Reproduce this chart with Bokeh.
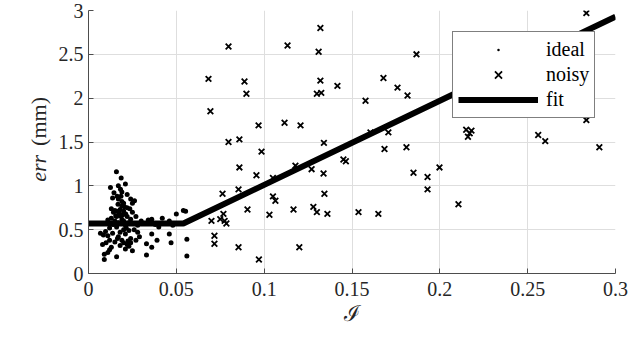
import math
from bokeh.plotting import figure
from bokeh.models import Range1d, FixedTicker, Label, Legend, LegendItem
from bokeh.embed import file_html
from bokeh.resources import INLINE

# ---------------- data ----------------
ideal_x = [0.0159, 0.0186, 0.0125, 0.0170, 0.0182, 0.0190, 0.0220, 0.0137, 0.0170, 0.0190,
           0.0200, 0.0168, 0.0240, 0.0250, 0.0262, 0.0130, 0.0142, 0.0150, 0.0160, 0.0180,
           0.0200, 0.0212, 0.0220, 0.0240, 0.0500, 0.0540, 0.0553, 0.0420, 0.0360, 0.0300,
           0.0068, 0.0097, 0.0137, 0.0085, 0.0110, 0.0180, 0.0210, 0.0240, 0.0225, 0.0190,
           0.0165, 0.0280, 0.0360, 0.0390, 0.0330, 0.0360, 0.0460, 0.0470, 0.0560, 0.0560,
           0.0330, 0.0160, 0.0090, 0.0090, 0.0110, 0.0120, 0.0210, 0.0230, 0.0250, 0.0150,
           0.0170, 0.0190, 0.0210, 0.0230, 0.0160, 0.0140, 0.0120, 0.0180, 0.0200, 0.0260,
           0.0280, 0.0320, 0.0340, 0.0380, 0.0440, 0.0460, 0.0480, 0.0400, 0.0270, 0.0250,
           0.0220, 0.0190, 0.0160, 0.0130, 0.0110, 0.0200, 0.0220, 0.0240, 0.0180, 0.0150,
           0.0130, 0.0170, 0.0270, 0.0290, 0.0100, 0.0080, 0.0200, 0.0230, 0.0260, 0.0120,
           0.0145, 0.0210, 0.0163, 0.0175, 0.0235, 0.0205, 0.0195, 0.0155, 0.0215, 0.0185]
ideal_y = [1.16, 1.09, 0.98, 1.00, 0.96, 0.93, 0.90, 0.86, 0.85, 0.82,
           0.80, 0.79, 0.85, 0.80, 0.83, 0.74, 0.70, 0.72, 0.71, 0.73,
           0.71, 0.68, 0.65, 0.62, 0.68, 0.72, 0.71, 0.63, 0.62, 0.60,
           0.46, 0.48, 0.46, 0.44, 0.43, 0.47, 0.45, 0.40, 0.37, 0.38,
           0.40, 0.47, 0.45, 0.38, 0.34, 0.30, 0.45, 0.35, 0.39, 0.20,
           0.21, 0.19, 0.22, 0.16, 0.24, 0.27, 0.28, 0.31, 0.26, 0.60,
           0.58, 0.62, 0.55, 0.58, 0.53, 0.56, 0.52, 0.66, 0.60, 0.57,
           0.55, 0.57, 0.61, 0.56, 0.57, 0.60, 0.55, 0.53, 0.65, 0.70,
           0.75, 0.77, 0.65, 0.63, 0.61, 0.35, 0.33, 0.35, 0.32, 0.36,
           0.30, 0.42, 0.38, 0.42, 0.35, 0.33, 0.50, 0.49, 0.50, 0.38,
           0.92, 1.02, 0.88, 0.69, 0.74, 0.76, 0.67, 0.66, 0.52, 0.88]

noisy_x = [0.0683, 0.0694, 0.0797, 0.0888, 0.0899, 0.0797, 0.0859, 0.0968, 0.0985, 0.0859,
           0.0956, 0.1116, 0.1133, 0.1207, 0.1178, 0.1270, 0.1320, 0.1310, 0.1320, 0.1300,
           0.1325, 0.1050, 0.1417, 0.1577, 0.1679, 0.1759, 0.1816, 0.1867, 0.1605, 0.1707,
           0.1340, 0.1338, 0.1451, 0.1465, 0.1685, 0.1810, 0.1850, 0.1930, 0.1930, 0.1998,
           0.2106, 0.1343, 0.1280, 0.1300, 0.1360, 0.1537, 0.1650, 0.2150, 0.2170, 0.2160,
           0.2180, 0.2560, 0.2600, 0.2834, 0.2908, 0.2834, 0.0763, 0.0854, 0.1050, 0.1064,
           0.0905, 0.0768, 0.0700, 0.0750, 0.0785, 0.0775, 0.1030, 0.1167, 0.0717, 0.0717,
           0.0854, 0.1200, 0.0970]
noisy_y = [2.22, 1.85, 2.59, 2.19, 2.05, 1.50, 1.53, 1.69, 1.39, 1.21,
           1.12, 1.72, 2.60, 1.69, 1.23, 1.19, 2.80, 2.53, 2.20, 2.05,
           2.06, 1.09, 2.14, 1.97, 2.23, 2.12, 2.03, 2.50, 1.61, 1.61,
           1.49, 1.14, 1.30, 1.28, 1.42, 1.44, 1.15, 1.10, 0.96, 1.21,
           0.79, 0.91, 0.76, 0.70, 0.68, 0.70, 0.68, 1.64, 1.60, 1.56,
           1.63, 1.58, 1.51, 1.75, 1.44, 2.97, 0.91, 0.96, 0.88, 0.83,
           0.73, 0.68, 0.60, 0.62, 0.57, 0.60, 0.67, 0.73, 0.43, 0.34,
           0.30, 0.30, 0.16]

fit_x = [0.0, 0.054, 0.3]
fit_y = [0.57, 0.57, 2.93]

x_ticks = [0, 0.05, 0.1, 0.15, 0.2, 0.25, 0.3]
x_tick_labels = ["0", "0.05", "0.1", "0.15", "0.2", "0.25", "0.3"]
y_ticks = [0, 0.5, 1, 1.5, 2, 2.5, 3]
y_tick_labels = ["0", "0.5", "1", "1.5", "2", "2.5", "3"]

SERIF = "Liberation Serif"
TXT = "#262626"

p = figure(width=638, height=354, output_backend="svg", toolbar_location=None,
           x_range=Range1d(0, 0.3), y_range=Range1d(0, 3),
           min_border_left=88, min_border_right=23, min_border_top=10, min_border_bottom=81)
p.outline_line_color = None
p.background_fill_color = "white"
p.border_fill_color = "white"

r_ideal = p.scatter(ideal_x, ideal_y, marker="dot", size=20, fill_color="black", line_color="black")
r_noisy = p.scatter(noisy_x, noisy_y, marker="x", size=8, line_color="black", line_width=1.8)
r_fit = p.line(fit_x, fit_y, line_color="black", line_width=6)

for ax, ticks, labels in ((p.xaxis[0], x_ticks, x_tick_labels), (p.yaxis[0], y_ticks, y_tick_labels)):
    ax.ticker = FixedTicker(ticks=ticks, minor_ticks=[])
    ax.major_label_overrides = {t: l for t, l in zip(ticks, labels)}
    ax.major_label_text_font = SERIF
    ax.major_label_text_font_size = "20px"
    ax.major_label_text_color = TXT
    ax.axis_line_color = "#4d4d4d"
    ax.major_tick_line_color = "#4d4d4d"
    ax.major_tick_in = 5
    ax.major_tick_out = 0
    ax.minor_tick_line_color = None

p.yaxis.major_label_standoff = 5
p.xaxis.major_label_standoff = 8
p.xaxis.axis_label = "ℐ"
p.xaxis.axis_label_text_font = SERIF
p.xaxis.axis_label_text_font_size = "22px"
p.xaxis.axis_label_text_font_style = "normal"
p.xaxis.axis_label_text_color = TXT
p.xaxis.axis_label_standoff = 2

p.xgrid.grid_line_color = "#dedede"
p.ygrid.grid_line_color = "#dedede"

# y-axis label: italic "err" + upright "(mm)" (placed in the left side panel so it is not clipped)
p.add_layout(Label(x=-0.0285, y=1.734, text="(mm)", angle=math.pi / 2,
                   text_align="center", text_baseline="middle",
                   text_font=SERIF, text_font_size="22px", text_color=TXT), "left")
p.add_layout(Label(x=-0.0285, y=1.20, text="err", angle=math.pi / 2,
                   text_align="center", text_baseline="middle",
                   text_font=SERIF, text_font_size="22px", text_font_style="italic",
                   text_color=TXT), "left")

legend = Legend(items=[LegendItem(label="ideal", renderers=[r_ideal]),
                       LegendItem(label="noisy", renderers=[r_noisy]),
                       LegendItem(label="fit", renderers=[r_fit])],
                location=(364, 155))
legend.label_text_font = SERIF
legend.label_text_font_size = "20px"
legend.label_text_color = "black"
legend.glyph_width = 80
legend.glyph_height = 25
legend.label_height = 25
legend.padding = 5
legend.spacing = 0
legend.margin = 0
legend.label_standoff = 8
legend.border_line_color = "black"
legend.border_line_width = 1
legend.background_fill_color = "white"
legend.background_fill_alpha = 1
p.add_layout(legend)

open("out.html", "w").write(file_html(p, INLINE))
